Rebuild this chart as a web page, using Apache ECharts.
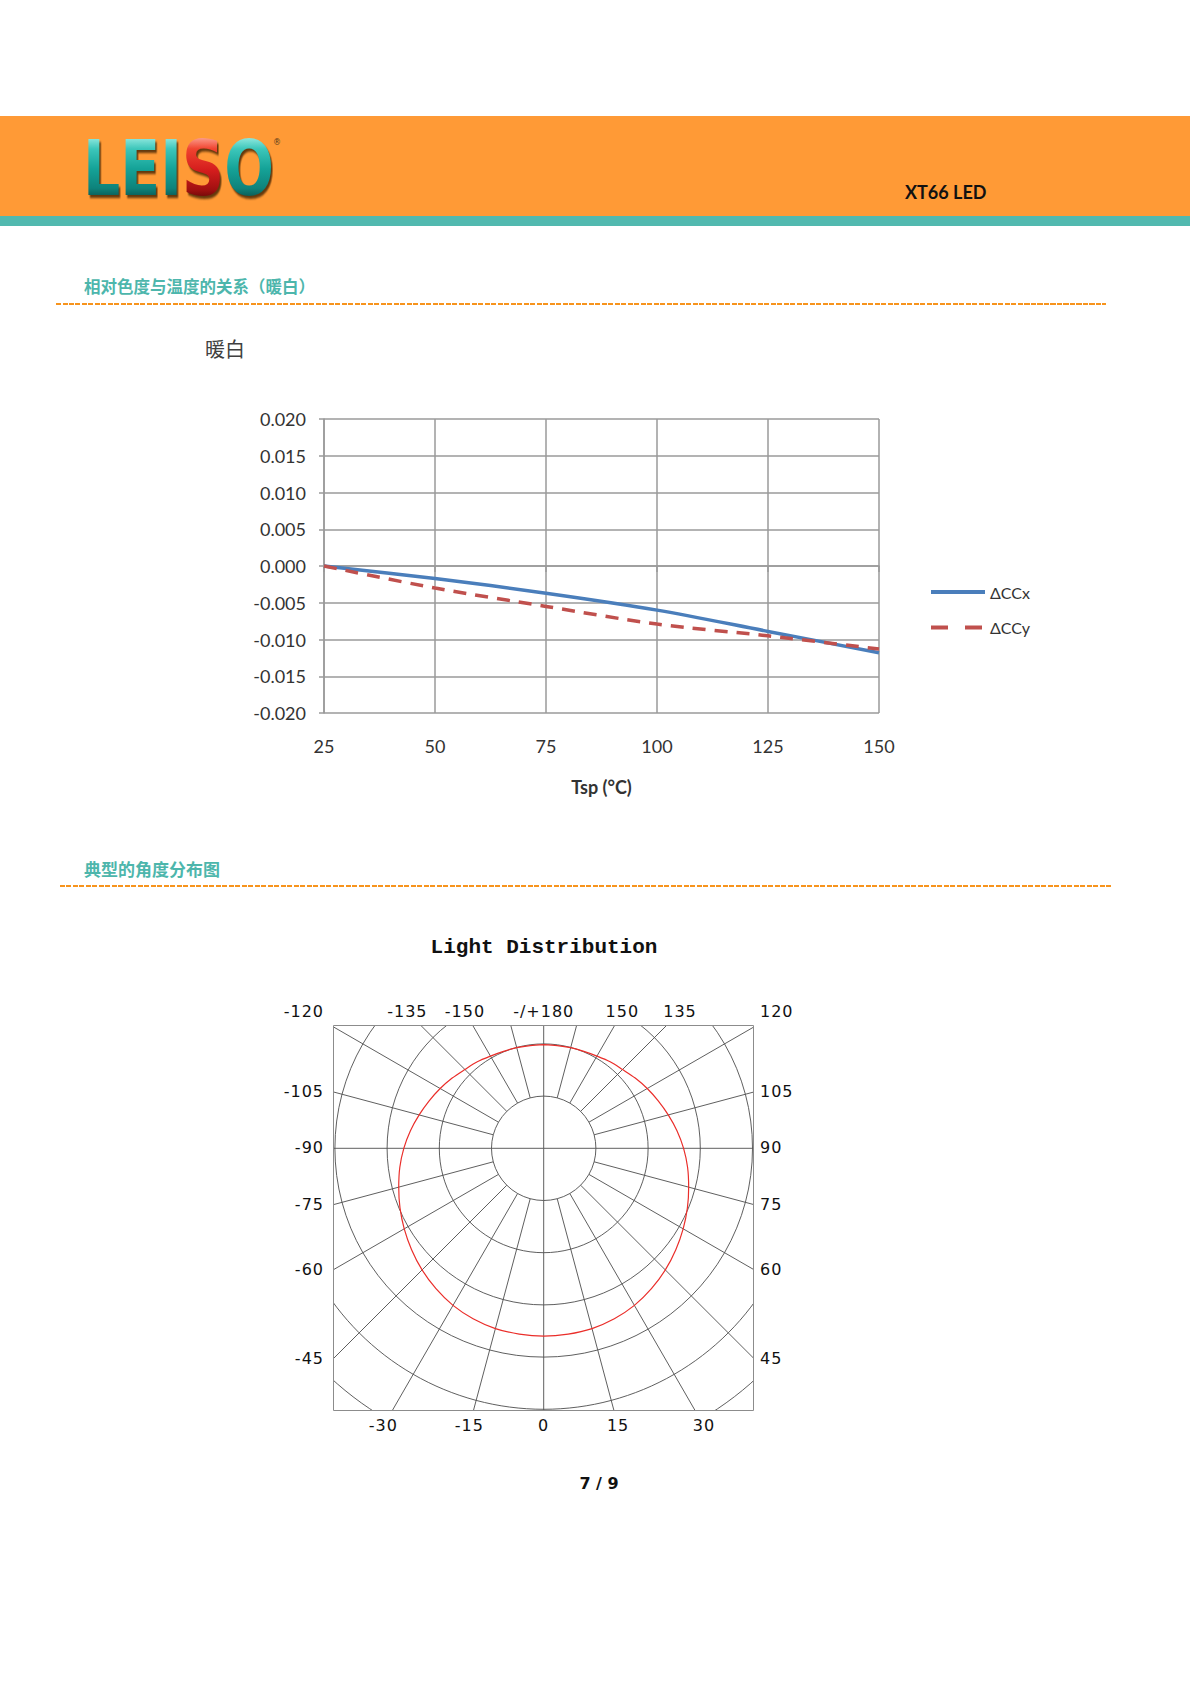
<!DOCTYPE html>
<html>
<head>
<meta charset="utf-8">
<script src="https://cdn.jsdelivr.net/npm/echarts/dist/echarts.min.js"></script>
<style>
html,body{margin:0;padding:0;background:#fff;}
#page{position:relative;width:1190px;height:1684px;overflow:hidden;background:#fff;}
.abs{position:absolute;white-space:nowrap;}
#main{position:absolute;left:0;top:0;width:1190px;height:1684px;}
#polar{position:absolute;left:333px;top:1025px;width:421px;height:386px;z-index:5;}
.band{position:absolute;left:0;width:1190px;}
#logo{left:83px;top:131px;font-family:"DejaVu Sans";font-weight:bold;font-size:76px;line-height:76px;
  transform:scaleX(0.77);transform-origin:0 0;filter:drop-shadow(2px 3px 1px rgba(50,25,0,0.75));z-index:3;}
#logo span{-webkit-background-clip:text;background-clip:text;color:transparent;}
#logo .lt{background-image:linear-gradient(180deg,#a6f1e8 12%,#3cc6ba 28%,#15a398 50%,#0e837b 72%,#0a4c48 86%);}
#logo .ls{background-image:linear-gradient(180deg,#ffb4a4 12%,#f0432f 28%,#d41d1d 52%,#a01010 74%,#5e0606 86%);}
.sect{font-family:"Noto Sans CJK SC";font-weight:bold;color:#4db6ac;z-index:3;}
.dash{position:absolute;height:2px;background-image:repeating-linear-gradient(90deg,#f7941d 0,#f7941d 5px,transparent 5px,transparent 6.5px);z-index:3;}
.plab{position:absolute;white-space:nowrap;font-family:"DejaVu Sans";font-size:16px;line-height:18px;letter-spacing:1px;color:#111;z-index:3;}
</style>
</head>
<body>
<div id="page">
  <div id="main"></div>
  <div class="band" style="top:116px;height:100px;background:#ff9a36;z-index:2;"></div>
  <div class="band" style="top:216px;height:10px;background:#52b9af;z-index:2;"></div>
  <div id="logo" class="abs"><span class="lt">LEI</span><span class="ls">S</span><span class="lt">O</span></div>
  <div class="abs" style="left:273px;top:138px;font-family:'DejaVu Sans';font-size:8px;color:#5a3a1a;z-index:3;">®</div>
  <div class="abs" style="left:905px;top:181px;font-family:Lato;font-weight:bold;font-size:18px;line-height:22px;color:#111;z-index:3;">XT66 LED</div>

  <div class="abs sect" style="left:84px;top:276px;font-size:16.5px;line-height:20px;">相对色度与温度的关系（暖白）</div>
  <div class="dash" style="left:56px;top:303px;width:1050px;"></div>

  <div class="abs sect" style="left:84px;top:859px;font-size:17px;line-height:20px;">典型的角度分布图</div>
  <div class="dash" style="left:60px;top:885px;width:1052px;"></div>

  <div class="abs" style="left:544px;top:936px;transform:translateX(-50%);font-family:'Liberation Mono';font-weight:bold;font-size:21px;line-height:24px;color:#111;z-index:3;">Light Distribution</div>

  <div id="polar"></div>

  <div class="abs" style="left:599px;top:1474px;transform:translateX(-50%);font-family:'DejaVu Sans';font-weight:bold;font-size:16px;line-height:20px;color:#111;z-index:3;">7 / 9</div>
</div>

<script>
// ---------- data: chromaticity shift vs temperature ----------
const temps = [25, 50, 75, 100, 125, 150];
const dCCx = [0, -0.0017, -0.0037, -0.0060, -0.0089, -0.0118];
const dCCy = [0, -0.0030, -0.0055, -0.0079, -0.0095, -0.0113];
const seriesNames = ['ΔCCx', 'ΔCCy'];
const chartSubtitle = '暖白';
const xAxisName = 'Tsp (°C)';

// ---------- data: light distribution (angle in degrees, relative intensity) ----------
const beamAngles = [-180, -172.5, -165, -157.5, -150, -142.5, -135, -127.5, -120, -112.5, -105, -97.5,
                    -90, -82.5, -75, -67.5, -60, -52.5, -45, -37.5, -30, -22.5, -15, -7.5,
                    0, 7.5, 15, 22.5, 30, 37.5, 45, 52.5, 60, 67.5, 75, 82.5,
                    90, 97.5, 105, 112.5, 120, 127.5, 135, 142.5, 150, 157.5, 165, 172.5, 180];
const beamIntensity = [19.7, 19.7, 19.9, 20.2, 20.8, 21.8, 22.7, 24.2, 25.8, 27.5, 29.4, 31.5,
                       33.6, 35.6, 37.5, 39.6, 41.7, 43.8, 45.9, 47.8, 49.5, 50.7, 51.5, 51.8,
                       52.0, 51.8, 51.5, 50.7, 49.5, 47.8, 45.9, 43.8, 41.7, 39.6, 37.5, 35.6,
                       33.6, 31.5, 29.4, 27.5, 25.8, 24.2, 22.7, 21.8, 20.8, 20.2, 19.9, 19.7, 19.7];
const angleTickValues = [-120, -135, -150, 180, 150, 135, 120,
                         -105, -90, -75, -60, -45,
                         105, 90, 75, 60, 45,
                         -30, -15, 0, 15, 30];
const angleTickText = v => (v === 180 ? '-/+180' : String(v));

// ---------- line chart ----------
const main = echarts.init(document.getElementById('main'), null, {renderer: 'svg'});
const gridColor = '#9a9a9a';
const blue = '#4a7ebb', red = '#c0504d';
main.setOption({
  animation: false,
  backgroundColor: 'transparent',
  title: {
    text: chartSubtitle, left: 205, top: 338, padding: 0,
    textStyle: {fontFamily: 'Noto Sans CJK SC', fontSize: 20, fontWeight: 'normal', color: '#404040'}
  },
  legend: {
    orient: 'vertical', left: 929, top: 583, padding: 0,
    itemWidth: 54, itemHeight: 18, itemGap: 17.4,
    itemStyle: {opacity: 0, color: 'rgba(0,0,0,0)', borderWidth: 0},
    textStyle: {fontFamily: 'Lato', fontSize: 16, color: '#333', lineHeight: 18},
    data: [
      {name: seriesNames[0], itemStyle: {opacity: 0}, lineStyle: {color: blue, width: 4, type: 'solid'}},
      {name: seriesNames[1], itemStyle: {opacity: 0}, lineStyle: {color: red, width: 4, type: [17, 17]}}
    ]
  },
  grid: {left: 324, top: 419, width: 555, height: 294, containLabel: false, outerBoundsMode: 'none'},
  xAxis: {
    type: 'value', min: 25, max: 150, interval: 25,
    axisLine: {show: true, lineStyle: {color: gridColor, width: 1.5}},
    axisTick: {show: true, length: 6, inside: false, lineStyle: {color: gridColor, width: 1.5}},
    axisLabel: {margin: 24, fontFamily: 'Lato', fontSize: 18, color: '#333'},
    splitLine: {show: true, lineStyle: {color: gridColor, width: 1.5}},
    name: xAxisName, nameLocation: 'middle', nameGap: 65,
    nameTextStyle: {fontFamily: 'Lato', fontSize: 18, fontWeight: 'bold', color: '#333'}
  },
  yAxis: {
    type: 'value', min: -0.02, max: 0.02, interval: 0.005,
    axisLine: {show: true, lineStyle: {color: gridColor, width: 1.5}},
    axisTick: {show: true, length: 5, inside: false, lineStyle: {color: gridColor, width: 1.5}},
    axisLabel: {
      margin: 18, fontFamily: 'Lato', fontSize: 18, color: '#333',
      formatter: v => (Math.abs(v) < 1e-9 ? '0.000' : v.toFixed(3))
    },
    splitLine: {show: true, lineStyle: {color: gridColor, width: 1.5}}
  },
  series: [
    {
      name: seriesNames[0], type: 'line', symbol: 'none', smooth: 0.3,
      data: temps.map((t, i) => [t, dCCx[i]]),
      lineStyle: {color: blue, width: 3.5}, itemStyle: {color: blue}, z: 3
    },
    {
      name: seriesNames[1], type: 'line', symbol: 'none', smooth: 0.3,
      data: temps.map((t, i) => [t, dCCy[i]]),
      lineStyle: {color: red, width: 3.5, type: [13, 9]}, itemStyle: {color: red}, z: 4
    }
  ]
});

// ---------- polar chart ----------
const box = {L: 333, T: 1025, R: 754, B: 1411};
const pc = {x: 543.7, y: 1148.3};
const ringStep = 52.2;
const polarLine = {color: '#4d4d4d', width: 0.9};

const polar = echarts.init(document.getElementById('polar'), null, {renderer: 'svg'});
const cx = pc.x - box.L, cy = pc.y - box.T;
polar.setOption({
  animation: false,
  polar: [
    {center: [cx, cy], radius: [ringStep, ringStep * 6]},
    {center: [cx, cy], radius: [0, ringStep]}
  ],
  angleAxis: [
    {
      polarIndex: 0, type: 'value', min: -180, max: 180, interval: 15, startAngle: 90, clockwise: false,
      axisLine: {show: false}, axisTick: {show: false}, axisLabel: {show: false},
      splitLine: {show: true, lineStyle: polarLine}
    },
    {
      polarIndex: 1, type: 'value', min: -180, max: 180, interval: 90, startAngle: 90, clockwise: false,
      axisLine: {show: false}, axisTick: {show: false}, axisLabel: {show: false},
      splitLine: {show: true, lineStyle: polarLine}
    }
  ],
  radiusAxis: [
    {
      polarIndex: 0, type: 'value', min: 0, max: 100, interval: 20,
      axisLine: {show: false}, axisTick: {show: false}, axisLabel: {show: false},
      splitLine: {show: true, lineStyle: polarLine}
    },
    {
      polarIndex: 1, type: 'value', min: 0, max: 1,
      axisLine: {show: false}, axisTick: {show: false}, axisLabel: {show: false},
      splitLine: {show: false}
    }
  ],
  graphic: [{
    type: 'rect', z: 100, silent: true,
    shape: {x: 0.5, y: 0.5, width: box.R - box.L - 1, height: box.B - box.T - 1},
    style: {fill: 'none', stroke: '#8c8c8c', lineWidth: 1}
  }],
  series: [
    {
      type: 'line', coordinateSystem: 'polar', polarIndex: 0, symbol: 'none', smooth: 0.3,
      data: beamAngles.map((a, i) => [beamIntensity[i], a]),
      lineStyle: {color: '#ea2e2a', width: 1.2}, z: 5
    },
    {type: 'line', coordinateSystem: 'polar', polarIndex: 1, symbol: 'none', data: []}
  ]
});

// ---------- angle tick labels on the frame ----------
const page = document.getElementById('page');
const topRow = box.T - 13, bottomRow = box.B + 15;
angleTickValues.forEach(v => {
  const a = v * Math.PI / 180, dx = Math.sin(a), dy = Math.cos(a);
  let best = {t: Infinity, e: ''};
  const test = (t, e) => { if (t > 0 && t < best.t) best = {t, e}; };
  if (Math.abs(dx) > 1e-6) test(((dx > 0 ? box.R : box.L) - pc.x) / dx, dx > 0 ? 'R' : 'L');
  if (Math.abs(dy) > 1e-6) test(((dy > 0 ? box.B : box.T) - pc.y) / dy, dy > 0 ? 'B' : 'T');
  const y = pc.y + best.t * dy;
  let left, top, tx;
  if (best.e === 'B') { left = pc.x + (bottomRow - pc.y) * dx / dy; top = bottomRow; tx = '-50%'; }
  else if (best.e === 'T') { left = pc.x + (topRow - pc.y) * dx / dy; top = topRow; tx = '-50%'; }
  else if (best.e === 'L') { left = box.L - 9; top = (y < box.T + 12) ? topRow : y; tx = '-100%'; }
  else { left = box.R + 6; top = (y < box.T + 12) ? topRow : y; tx = '0'; }
  const el = document.createElement('div');
  el.className = 'plab';
  el.textContent = angleTickText(v);
  el.style.left = left + 'px';
  el.style.top = top + 'px';
  el.style.transform = 'translate(' + tx + ',-50%)';
  page.appendChild(el);
});
</script>
</body>
</html>
